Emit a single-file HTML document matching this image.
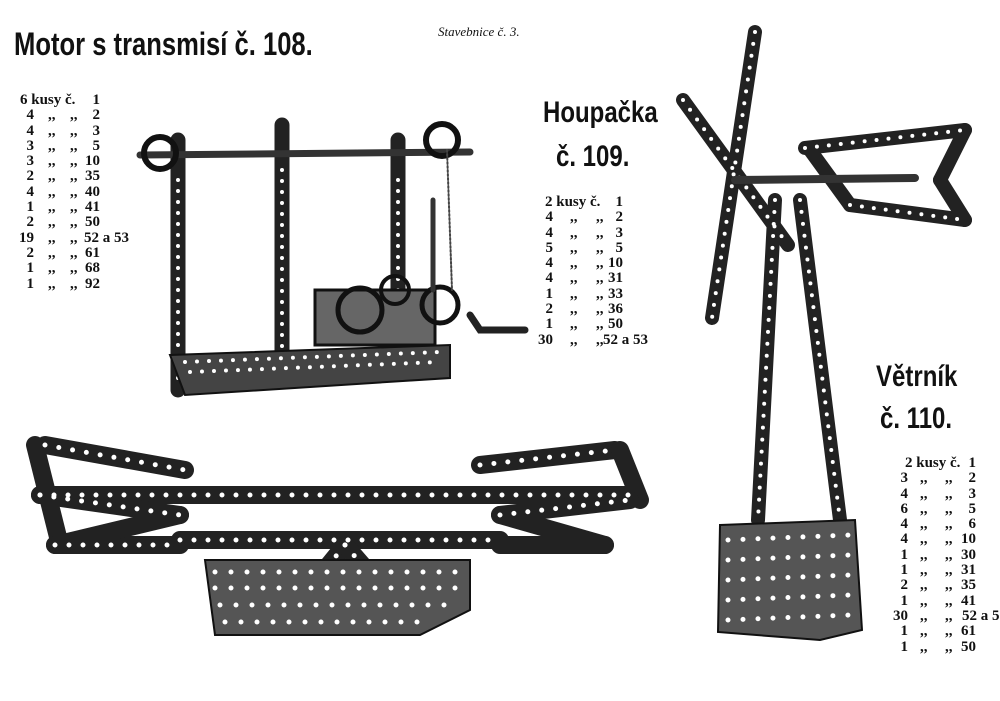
<!DOCTYPE html>
<html><head><meta charset="utf-8"><style>
body{margin:0;background:#fff;}
#p{position:relative;width:1000px;height:701px;overflow:hidden;background:#fff;font-family:"Liberation Serif",serif;color:#111;}
.h{position:absolute;font-family:"Liberation Sans",sans-serif;font-weight:bold;transform:scaleX(0.8);transform-origin:left top;white-space:nowrap;}
.l{position:absolute;font-weight:bold;font-size:15px;line-height:15.3px;}
.l div{height:15.3px;white-space:nowrap;position:relative;}
.l span{position:absolute;top:0;}
.c{text-align:right;width:20px;left:0;}
.q1{left:34px;}
.q2{left:56px;}
.n{text-align:right;width:30px;left:58px;}
svg{position:absolute;left:0;top:0;}
</style></head><body><div id="p">
<svg width="1000" height="701" viewBox="0 0 1000 701">
<g fill="none" stroke-linecap="round">
<g stroke="#222" stroke-width="15">
<line x1="178" y1="140" x2="178" y2="390"/>
<line x1="282" y1="125" x2="282" y2="365"/>
<line x1="398" y1="140" x2="398" y2="305"/>
</g>
<g stroke="#fff" stroke-width="4" stroke-dasharray="0 11">
<line x1="178" y1="180" x2="178" y2="385"/>
<line x1="282" y1="170" x2="282" y2="360"/>
<line x1="398" y1="180" x2="398" y2="300"/>
</g>
<line x1="140" y1="155" x2="470" y2="152" stroke="#333" stroke-width="7"/>
<circle cx="160" cy="153" r="16" stroke="#111" stroke-width="6"/>
<circle cx="442" cy="140" r="16" stroke="#111" stroke-width="6"/>
<polygon points="170,355 450,345 450,378 185,395" fill="#444" stroke="#111" stroke-width="2"/>
<g stroke="#fff" stroke-width="4" stroke-dasharray="0 12"><line x1="185" y1="362" x2="440" y2="352"/><line x1="190" y1="372" x2="440" y2="362"/></g>
<rect x="315" y="290" width="120" height="55" fill="#666" stroke="#111" stroke-width="3"/>
<circle cx="360" cy="310" r="22" stroke="#111" stroke-width="5"/>
<circle cx="440" cy="305" r="18" stroke="#111" stroke-width="5"/>
<circle cx="395" cy="290" r="14" stroke="#111" stroke-width="4"/>
<polyline points="470,315 480,330 525,330" stroke="#222" stroke-width="7"/>
<line x1="433" y1="200" x2="433" y2="290" stroke="#333" stroke-width="5"/>
<line x1="447" y1="150" x2="452" y2="290" stroke="#444" stroke-width="2" stroke-dasharray="2 2"/>
<g stroke="#222" stroke-width="18">
<line x1="40" y1="495" x2="635" y2="495"/>
<line x1="45" y1="445" x2="185" y2="470"/>
<line x1="480" y1="465" x2="615" y2="450"/>
<line x1="35" y1="445" x2="60" y2="545"/>
<line x1="620" y1="450" x2="640" y2="500"/>
<line x1="40" y1="495" x2="180" y2="515"/>
<line x1="500" y1="515" x2="630" y2="500"/>
<line x1="55" y1="545" x2="180" y2="545"/>
<line x1="500" y1="545" x2="605" y2="545"/>
<line x1="180" y1="540" x2="500" y2="540"/>
<line x1="345" y1="545" x2="280" y2="625"/>
<line x1="345" y1="545" x2="410" y2="620"/>
<line x1="55" y1="545" x2="180" y2="515"/>
<line x1="500" y1="515" x2="605" y2="545"/>
</g>
<g stroke="#fff" stroke-width="5" stroke-dasharray="0 14">
<line x1="40" y1="495" x2="635" y2="495"/>
<line x1="45" y1="445" x2="185" y2="470"/>
<line x1="480" y1="465" x2="615" y2="450"/>
<line x1="40" y1="495" x2="180" y2="515"/>
<line x1="500" y1="515" x2="630" y2="500"/>
<line x1="55" y1="545" x2="180" y2="545"/>
<line x1="180" y1="540" x2="500" y2="540"/>
<line x1="345" y1="545" x2="280" y2="625"/>
<line x1="345" y1="545" x2="410" y2="620"/>
</g>
<polygon points="205,560 470,560 470,610 420,635 215,635" fill="#555" stroke="#111" stroke-width="2"/>
<g stroke="#fff" stroke-width="5" stroke-dasharray="0 16"><line x1="215" y1="572" x2="465" y2="572"/><line x1="215" y1="588" x2="465" y2="588"/><line x1="220" y1="605" x2="460" y2="605"/><line x1="225" y1="622" x2="420" y2="622"/></g>
<g stroke="#222" stroke-width="14">
<line x1="755" y1="32" x2="712" y2="318"/>
<line x1="683" y1="100" x2="788" y2="245"/>
<line x1="775" y1="200" x2="758" y2="520"/>
<line x1="800" y1="200" x2="840" y2="520"/>
<line x1="805" y1="148" x2="965" y2="130"/>
<line x1="850" y1="205" x2="965" y2="220"/>
<line x1="965" y1="130" x2="940" y2="180"/>
<line x1="940" y1="180" x2="965" y2="220"/>
<line x1="810" y1="150" x2="850" y2="205"/>
</g>
<g stroke="#fff" stroke-width="4" stroke-dasharray="0 12">
<line x1="755" y1="32" x2="712" y2="318"/>
<line x1="683" y1="100" x2="788" y2="245"/>
<line x1="775" y1="200" x2="758" y2="520"/>
<line x1="800" y1="200" x2="840" y2="520"/>
<line x1="805" y1="148" x2="965" y2="130"/>
<line x1="850" y1="205" x2="965" y2="220"/>
</g>
<line x1="735" y1="180" x2="915" y2="178" stroke="#333" stroke-width="8"/>
<polygon points="720,525 855,520 862,630 820,640 718,632" fill="#555" stroke="#111" stroke-width="2"/>
<g stroke="#fff" stroke-width="5" stroke-dasharray="0 15"><line x1="728" y1="540" x2="850" y2="535"/><line x1="728" y1="560" x2="850" y2="555"/><line x1="728" y1="580" x2="850" y2="575"/><line x1="728" y1="600" x2="850" y2="595"/><line x1="728" y1="620" x2="850" y2="615"/></g>
</g>
</svg>
<div class="h" style="left:14px;top:26px;font-size:32px;">Motor s transmisí č. 108.</div>
<div style="position:absolute;left:438px;top:24px;font-size:13px;font-style:italic;">Stavebnice č. 3.</div>
<div class="h" style="left:543px;top:96px;font-size:30px;">Houpačka</div>
<div class="h" style="left:556px;top:140px;font-size:30px;">č. 109.</div>
<div class="h" style="left:876px;top:360px;font-size:30px;">Větrník</div>
<div class="h" style="left:880px;top:402px;font-size:30px;">č. 110.</div>

<div class="l" style="left:14px;top:93px;">
<div><span style="left:6px">6 kusy č.</span><span class="n" style="left:56px">1</span></div>
<div><span class="c">4</span><span class="q1">,,</span><span class="q2">,,</span><span class="n" style="left:56px">2</span></div>
<div><span class="c">4</span><span class="q1">,,</span><span class="q2">,,</span><span class="n" style="left:56px">3</span></div>
<div><span class="c">3</span><span class="q1">,,</span><span class="q2">,,</span><span class="n" style="left:56px">5</span></div>
<div><span class="c">3</span><span class="q1">,,</span><span class="q2">,,</span><span class="n" style="left:56px">10</span></div>
<div><span class="c">2</span><span class="q1">,,</span><span class="q2">,,</span><span class="n" style="left:56px">35</span></div>
<div><span class="c">4</span><span class="q1">,,</span><span class="q2">,,</span><span class="n" style="left:56px">40</span></div>
<div><span class="c">1</span><span class="q1">,,</span><span class="q2">,,</span><span class="n" style="left:56px">41</span></div>
<div><span class="c">2</span><span class="q1">,,</span><span class="q2">,,</span><span class="n" style="left:56px">50</span></div>
<div><span class="c">19</span><span class="q1">,,</span><span class="q2">,,</span><span style="left:70px">52 a 53</span></div>
<div><span class="c">2</span><span class="q1">,,</span><span class="q2">,,</span><span class="n" style="left:56px">61</span></div>
<div><span class="c">1</span><span class="q1">,,</span><span class="q2">,,</span><span class="n" style="left:56px">68</span></div>
<div><span class="c">1</span><span class="q1">,,</span><span class="q2">,,</span><span class="n" style="left:56px">92</span></div>
</div>

<div class="l" style="left:533px;top:195px;">
<div><span style="left:12px">2 kusy č.</span><span class="n" style="left:60px">1</span></div>
<div><span class="c">4</span><span class="q1" style="left:37px">,,</span><span class="q2" style="left:63px">,,</span><span class="n" style="left:60px">2</span></div>
<div><span class="c">4</span><span class="q1" style="left:37px">,,</span><span class="q2" style="left:63px">,,</span><span class="n" style="left:60px">3</span></div>
<div><span class="c">5</span><span class="q1" style="left:37px">,,</span><span class="q2" style="left:63px">,,</span><span class="n" style="left:60px">5</span></div>
<div><span class="c">4</span><span class="q1" style="left:37px">,,</span><span class="q2" style="left:63px">,,</span><span class="n" style="left:60px">10</span></div>
<div><span class="c">4</span><span class="q1" style="left:37px">,,</span><span class="q2" style="left:63px">,,</span><span class="n" style="left:60px">31</span></div>
<div><span class="c">1</span><span class="q1" style="left:37px">,,</span><span class="q2" style="left:63px">,,</span><span class="n" style="left:60px">33</span></div>
<div><span class="c">2</span><span class="q1" style="left:37px">,,</span><span class="q2" style="left:63px">,,</span><span class="n" style="left:60px">36</span></div>
<div><span class="c">1</span><span class="q1" style="left:37px">,,</span><span class="q2" style="left:63px">,,</span><span class="n" style="left:60px">50</span></div>
<div><span class="c">30</span><span class="q1" style="left:37px">,,</span><span class="q2" style="left:63px">,,</span><span style="left:70px">52 a 53</span></div>
</div>

<div class="l" style="left:898px;top:456px;">
<div><span style="left:7px">2 kusy č.</span><span class="n" style="left:48px">1</span></div>
<div><span class="c" style="left:-10px">3</span><span class="q1" style="left:22px">,,</span><span class="q2" style="left:47px">,,</span><span class="n" style="left:48px">2</span></div>
<div><span class="c" style="left:-10px">4</span><span class="q1" style="left:22px">,,</span><span class="q2" style="left:47px">,,</span><span class="n" style="left:48px">3</span></div>
<div><span class="c" style="left:-10px">6</span><span class="q1" style="left:22px">,,</span><span class="q2" style="left:47px">,,</span><span class="n" style="left:48px">5</span></div>
<div><span class="c" style="left:-10px">4</span><span class="q1" style="left:22px">,,</span><span class="q2" style="left:47px">,,</span><span class="n" style="left:48px">6</span></div>
<div><span class="c" style="left:-10px">4</span><span class="q1" style="left:22px">,,</span><span class="q2" style="left:47px">,,</span><span class="n" style="left:48px">10</span></div>
<div><span class="c" style="left:-10px">1</span><span class="q1" style="left:22px">,,</span><span class="q2" style="left:47px">,,</span><span class="n" style="left:48px">30</span></div>
<div><span class="c" style="left:-10px">1</span><span class="q1" style="left:22px">,,</span><span class="q2" style="left:47px">,,</span><span class="n" style="left:48px">31</span></div>
<div><span class="c" style="left:-10px">2</span><span class="q1" style="left:22px">,,</span><span class="q2" style="left:47px">,,</span><span class="n" style="left:48px">35</span></div>
<div><span class="c" style="left:-10px">1</span><span class="q1" style="left:22px">,,</span><span class="q2" style="left:47px">,,</span><span class="n" style="left:48px">41</span></div>
<div><span class="c" style="left:-10px">30</span><span class="q1" style="left:22px">,,</span><span class="q2" style="left:47px">,,</span><span style="left:64px">52 a 5</span></div>
<div><span class="c" style="left:-10px">1</span><span class="q1" style="left:22px">,,</span><span class="q2" style="left:47px">,,</span><span class="n" style="left:48px">61</span></div>
<div><span class="c" style="left:-10px">1</span><span class="q1" style="left:22px">,,</span><span class="q2" style="left:47px">,,</span><span class="n" style="left:48px">50</span></div>
</div>
</div></body></html>
